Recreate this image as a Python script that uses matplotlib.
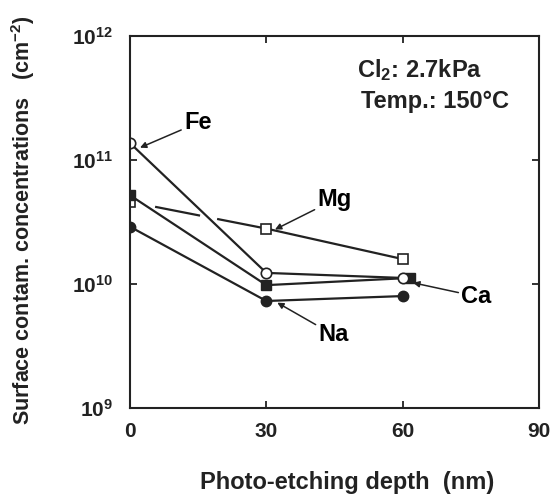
import matplotlib
matplotlib.use('Agg')
import matplotlib.pyplot as plt
from matplotlib.ticker import FixedLocator, FixedFormatter, NullLocator

plt.rcParams['font.family'] = ['Liberation Sans', 'DejaVu Sans']
plt.rcParams['font.weight'] = 'bold'
plt.rcParams['axes.labelweight'] = 'bold'
plt.rcParams['mathtext.fontset'] = 'custom'
plt.rcParams['mathtext.rm'] = 'Liberation Sans:bold'
plt.rcParams['mathtext.it'] = 'Liberation Sans:bold'
plt.rcParams['mathtext.bf'] = 'Liberation Sans:bold'
plt.rcParams['lines.scale_dashes'] = False

# data
depth = [0, 30, 60]
fe = [1.37e11, 1.23e10, 1.12e10]
mg = [4.6e10, 2.8e10, 1.59e10]
ca_depth = [0, 30, 61.5]
ca = [5.2e10, 9.8e9, 1.12e10]
na = [2.9e10, 7.3e9, 8.0e9]

x_ticks = [0, 30, 60, 90]
y_ticks = [1e9, 1e10, 1e11, 1e12]
y_labels = ['10$^{9}$', '10$^{10}$', '10$^{11}$', '10$^{12}$']

fig = plt.figure(figsize=(5.58, 4.94), dpi=100)
ax = fig.add_axes([0.233, 0.174, 0.733, 0.753])

lw = 1.6
# Mg first segment is broken where the other lines cross it
ax.plot(depth[:2], mg[:2], color='#222222', lw=lw,
        linestyle=(145.5, (33, 12.5, 100, 18.4)))
ax.plot(depth[1:], mg[1:], color='#222222', lw=lw)
ax.plot(depth, mg, linestyle='none', marker='s', ms=6.5, mfc='white',
        mec='#222222', mew=1.2)

ax.plot(depth, na, color='#222222', lw=lw, marker='o', ms=7.5,
        mfc='#222222', mec='#222222')
ax.plot(ca_depth, ca, color='#222222', lw=lw, marker='s', ms=6.5,
        mfc='#222222', mec='#222222')
ax.plot(depth, fe, color='#222222', lw=lw, marker='o', ms=7.5,
        mfc='white', mec='#222222', mew=1.2)

ax.set_yscale('log')
ax.set_xlim(0, 90)
ax.set_ylim(1e9, 1e12)

ax.xaxis.set_major_locator(FixedLocator(x_ticks))
ax.yaxis.set_major_locator(FixedLocator(y_ticks))
ax.yaxis.set_major_formatter(FixedFormatter(y_labels))
ax.yaxis.set_minor_locator(NullLocator())
ax.tick_params(direction='in', length=5, width=1.3, top=True, right=True,
               labelsize=15, colors='#222222')
ax.tick_params(axis='x', pad=10)
ax.tick_params(axis='y', pad=12)
for sp in ax.spines.values():
    sp.set_linewidth(1.5)
    sp.set_color('#222222')

ax.set_xlabel('Photo-etching depth  (nm)', fontsize=17, color='#222222')
ax.set_ylabel('Surface contam. concentrations   (cm$^{-2}$)', fontsize=15.5,
              color='#222222')
ax.xaxis.set_label_coords(0.53, -0.168)
ax.yaxis.set_label_coords(-0.228, 0.505)

arrow = dict(arrowstyle='-|>', color='#222222', lw=1.1,
             mutation_scale=9, shrinkA=0, shrinkB=0)
ax.annotate('Fe', xy=(2.2, 10**11.10), xytext=(14.9, 10**11.30),
            fontsize=17, ha='center', va='center', arrowprops=arrow)
ax.annotate('Mg', xy=(31.9, 10**10.44), xytext=(45.0, 10**10.68),
            fontsize=17, ha='center', va='center', arrowprops=arrow)
ax.annotate('Ca', xy=(62.3, 10**10.01), xytext=(76.2, 10**9.90),
            fontsize=17, ha='center', va='center', arrowprops=arrow)
ax.annotate('Na', xy=(32.4, 10**9.85), xytext=(44.8, 10**9.59),
            fontsize=17, ha='center', va='center', arrowprops=arrow)

ax.text(0.555, 0.909, 'Cl$_2$: 2.7kPa', transform=ax.transAxes,
        fontsize=17, va='center', color='#222222')
ax.text(0.565, 0.823, 'Temp.: 150\u00b0C', transform=ax.transAxes,
        fontsize=17, va='center', color='#222222')

fig.savefig('out.png', dpi=100)
